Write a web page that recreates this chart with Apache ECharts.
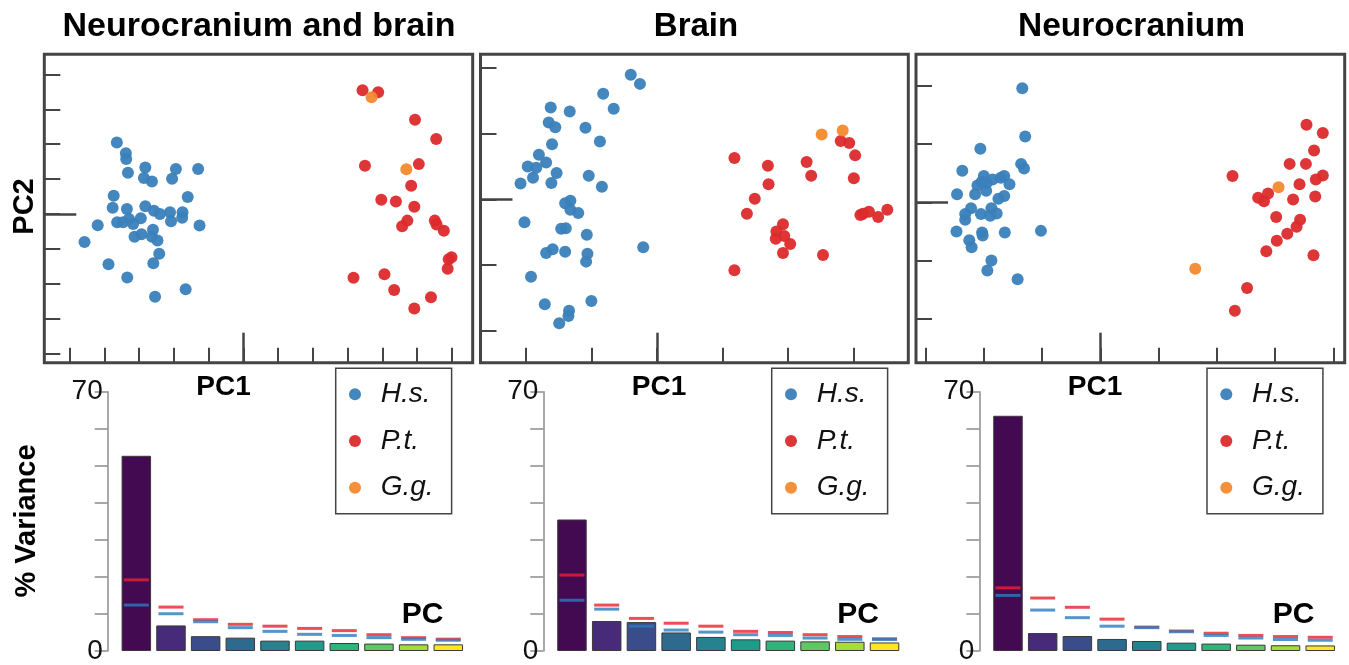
<!DOCTYPE html>
<html>
<head>
<meta charset="utf-8">
<script src="https://cdn.jsdelivr.net/npm/echarts@6/dist/echarts.min.js"></script>
<style>
html,body{margin:0;padding:0;background:#fff;}
#chart{width:1349px;height:665px;}
</style>
</head>
<body>
<div id="chart"></div>
<script>
// ---------- DATA ----------
const panelTitles = ['Neurocranium and brain', 'Brain', 'Neurocranium'];
const speciesNames = ['H.s.', 'P.t.', 'G.g.'];
const pcCategories = ['PC1','PC2','PC3','PC4','PC5','PC6','PC7','PC8','PC9','PC10'];

// Scatter: PC1 / PC2 scores (in axis-tick units)
const nbHs = [[-3.64,2.05],[-3.38,1.74],[-3.37,1.58],[-3.32,1.18],[-2.82,1.33],[-2.86,1.03],[-2.63,0.93],[-1.94,1.29],[-2.05,1.01],[-1.30,1.29],
  [-3.73,0.52],[-1.60,0.49],[-3.76,0.18],[-3.35,0.14],[-2.82,0.22],[-2.57,0.09],[-2.40,0.00],[-2.11,0.05],[-1.75,0.05],[-1.76,-0.11],
  [-2.08,-0.21],[-1.26,-0.33],[-4.19,-0.32],[-3.63,-0.24],[-3.46,-0.24],[-3.29,-0.14],[-3.17,-0.29],[-2.95,-0.12],[-4.57,-0.80],[-2.60,-0.45],
  [-3.13,-0.65],[-2.93,-0.58],[-2.63,-0.65],[-2.47,-0.76],[-2.42,-1.14],[-3.88,-1.44],[-2.59,-1.41],[-3.34,-1.82],[-2.54,-2.37],[-1.66,-2.16]];
const nbPt = [[3.43,3.55],[3.88,3.49],[4.94,2.70],[5.55,2.15],[3.50,1.38],[5.05,1.43],[4.83,0.81],[3.97,0.41],[4.39,0.36],[4.92,0.21],
  [4.72,-0.19],[4.57,-0.35],[5.51,-0.19],[5.56,-0.30],[5.77,-0.48],[5.99,-1.24],[5.91,-1.30],[5.88,-1.57],[3.17,-1.83],[4.06,-1.73],
  [4.34,-2.18],[5.40,-2.39],[4.92,-2.71]];
const nbGg = [[3.69,3.35],[4.69,1.28]];

const bHs = [[-0.40,1.90],[-0.26,1.76],[-0.82,1.61],[-0.66,1.38],[-1.62,1.40],[-1.33,1.34],[-1.65,1.17],[-1.55,1.10],[-1.09,1.09],[-0.87,0.88],
  [-1.60,0.84],[-1.80,0.68],[-1.69,0.56],[-1.97,0.50],[-1.84,0.48],[-1.53,0.40],[-1.89,0.33],[-2.08,0.24],[-1.61,0.25],[-1.04,0.36],
  [-0.84,0.19],[-1.32,-0.02],[-1.40,-0.06],[-1.32,-0.16],[-1.20,-0.21],[-2.02,-0.35],[-1.46,-0.45],[-1.39,-0.44],[-1.07,-0.54],[-1.59,-0.76],
  [-1.69,-0.82],[-1.40,-0.80],[-1.06,-0.83],[-1.08,-0.95],[-0.21,-0.73],[-1.92,-1.18],[-1.71,-1.60],[-1.34,-1.70],[-1.35,-1.78],[-1.49,-1.89],[-1.00,-1.55]];
const bPt = [[1.18,0.63],[1.69,0.51],[1.70,0.23],[2.28,0.57],[2.35,0.36],[2.80,0.89],[2.93,0.86],[3.02,0.67],[3.00,0.32],[1.49,0.01],
  [1.37,-0.22],[1.92,-0.38],[1.82,-0.49],[1.94,-0.56],[1.81,-0.60],[2.03,-0.68],[1.92,-0.82],[2.53,-0.85],[1.18,-1.08],[3.10,-0.24],
  [3.14,-0.22],[3.23,-0.19],[3.37,-0.27],[3.51,-0.16]];
const bGg = [[2.51,0.99],[2.83,1.05]];

const nHs = [[-1.34,1.96],[-1.29,1.13],[-2.06,0.92],[-2.37,0.54],[-1.36,0.66],[-1.31,0.58],[-2.00,0.45],[-1.85,0.39],[-1.71,0.42],[-1.65,0.45],
  [-1.56,0.31],[-2.11,0.29],[-1.96,0.20],[-2.15,0.14],[-2.46,0.14],[-1.75,0.06],[-1.65,0.11],[-2.22,-0.10],[-1.87,-0.10],[-2.32,-0.20],
  [-2.05,-0.20],[-1.89,-0.23],[-1.78,-0.19],[-2.32,-0.30],[-2.47,-0.50],[-2.03,-0.52],[-2.02,-0.57],[-1.64,-0.52],[-1.02,-0.49],[-2.25,-0.65],
  [-2.21,-0.77],[-1.87,-1.00],[-1.94,-1.17],[-1.42,-1.32],[-1.95,0.33],[-2.04,0.35]];
const nPt = [[3.54,1.33],[3.82,1.19],[3.67,0.89],[3.25,0.66],[3.53,0.66],[2.27,0.45],[3.82,0.46],[3.70,0.39],[3.42,0.31],[2.71,0.08],
  [2.81,0.02],[2.88,0.15],[3.31,0.05],[3.69,0.10],[3.02,-0.25],[3.43,-0.30],[3.37,-0.42],[3.21,-0.54],[3.03,-0.66],[2.85,-0.84],
  [3.66,-0.91],[2.52,-1.47],[2.31,-1.86]];
const nGg = [[3.06,0.26],[1.63,-1.14]];

// Scatter axis ranges and tick positions
const scXMin = [-5.727, -2.69, -3.165];
const scXMax = [6.60, 3.83, 4.196];
const scYMin = [-4.264, -2.491, -2.753];
const scYMax = [4.579, 2.211, 2.541];
const scXTicks = [[-5,-4,-3,-2,-1,0,1,2,3,4,5,6],[-2,-1,0,1,2,3],[-3,-2,-1,0,1,2,3,4]];
const scYTicks = [[-4,-3,-2,-1,0,1,2,3,4],[-2,-1,0,1,2],[-2,-1,0,1,2]];

// % variance per PC
const varNB = [52.7, 6.9, 4.0, 3.6, 2.8, 2.8, 2.15, 2.0, 1.8, 1.8];
const varB  = [35.5, 8.1, 7.8, 5.0, 3.8, 3.15, 2.8, 2.6, 2.5, 2.3];
const varN  = [63.5, 4.85, 4.05, 3.25, 2.7, 2.25, 2.0, 1.7, 1.55, 1.5];
// reference marks (red = P.t., blue = H.s.)
const redNB  = [19.2, 11.85, 8.45, 7.2, 6.7, 6.1, 5.5, 4.4, 3.6, 3.2];
const blueNB = [12.4, 10.06, 7.9, 6.3, 5.3, 4.5, 4.2, 3.6, 3.15, 2.9];
const redB   = [20.5, 12.4, 8.8, 7.5, 6.7, 5.3, 5.0, 4.4, 3.9, 3.3];
const blueB  = [13.7, 11.3, 6.7, 5.65, 5.1, 4.4, 4.2, 3.5, 3.15, 3.1];
const redN   = [17.05, 14.3, 11.8, 8.6, 6.46, 5.4, 4.8, 4.2, 3.9, 3.7];
const blueN  = [15.0, 11.05, 9.0, 6.7, 6.3, 5.2, 4.2, 3.5, 3.1, 2.9];
const varTickLabels = [0, 70];

// ---------- STYLE ----------
const COL = {'H.s.':'#3a80ba','P.t.':'#dc2a2c','G.g.':'#f5892f'};
const viridis = ['#430a52','#472a7a','#3b4c8b','#2e6a8e','#25828e','#1e9c89','#2fb47c','#5ec962','#a8db34','#fde725'];
const FONT = '"Liberation Sans", Arial, sans-serif';
const frameColor = '#444';

const scGrids = [
  {left:44.3, top:54.3, width:428.4, height:308.4},
  {left:480.5, top:54.3, width:427.8, height:308.4},
  {left:916, top:54.3, width:428.7, height:308.4}
];
const barGrids = [
  {left:119.0, top:391.7, width:346.6, height:260},
  {left:554.6, top:391.7, width:347.3, height:260},
  {left:990.65, top:391.7, width:346.9, height:260}
];
const legendPos = [{left:335.7, top:368.3},{left:771.7, top:368.3},{left:1207, top:368.3}];
const scatterSets = [[nbHs,nbPt,nbGg],[bHs,bPt,bGg],[nHs,nPt,nGg]];
const varSets = [[varNB,redNB,blueNB],[varB,redB,blueB],[varN,redN,blueN]];

const grid = [], xAxis = [], yAxis = [], series = [], legend = [];

function scAxis(gi, min, max, pos, len, ticks, w) {
  return {type:'value', gridIndex:gi, min:min, max:max, position:pos,
    axisLine:{show:false, onZero:false}, splitLine:{show:false}, axisLabel:{show:false},
    axisTick:{show:true, inside:true, length:len, customValues:ticks, lineStyle:{color:frameColor, width:w}}};
}

for (let p = 0; p < 3; p++) {
  const gi = grid.length;
  grid.push(Object.assign({show:true, borderColor:frameColor, borderWidth:3, backgroundColor:'transparent'}, scGrids[p]));
  const xi = xAxis.length, yi = yAxis.length;
  xAxis.push(scAxis(gi, scXMin[p], scXMax[p], 'bottom', 15, scXTicks[p], 2));
  yAxis.push(scAxis(gi, scYMin[p], scYMax[p], 'left', 16, scYTicks[p], 2));
  // long ticks at zero
  xAxis.push(scAxis(gi, scXMin[p], scXMax[p], 'bottom', 30, [0], 2.5));
  yAxis.push(scAxis(gi, scYMin[p], scYMax[p], 'left', 32, [0], 2.5));
  speciesNames.forEach((nm, k) => {
    series.push({type:'scatter', name:nm, xAxisIndex:xi, yAxisIndex:yi, data:scatterSets[p][k],
      symbol:'circle', symbolSize:12, itemStyle:{color:COL[nm], opacity:0.95}, z:3+k});
  });
}

for (let p = 0; p < 3; p++) {
  const gi = grid.length;
  grid.push(Object.assign({show:false}, barGrids[p]));
  const xi = xAxis.length, yi = yAxis.length;
  xAxis.push({type:'category', gridIndex:gi, data:pcCategories, boundaryGap:true,
    axisLine:{show:false}, axisTick:{show:false}, axisLabel:{show:false}, splitLine:{show:false}});
  yAxis.push({type:'value', gridIndex:gi, min:0, max:70, interval:10, offset:11.3,
    axisLine:{show:true, lineStyle:{color:'#8c8c8c', width:1.5}},
    axisTick:{show:true, inside:false, length:13, lineStyle:{color:'#8c8c8c', width:1.5}},
    axisLabel:{show:true, customValues:varTickLabels, margin:5, fontSize:28, fontFamily:FONT, color:'#111'},
    splitLine:{show:false}});
  const [v, r, b] = varSets[p];
  series.push({type:'bar', xAxisIndex:xi, yAxisIndex:yi, data:v, barWidth:29.5,
    itemStyle:{color:(params)=>viridis[params.dataIndex], borderColor:'#3a3a3a', borderWidth:1}, z:2});
  series.push({type:'scatter', xAxisIndex:xi, yAxisIndex:yi, data:r, symbol:'rect', symbolSize:[25,3],
    itemStyle:{color:'#e8202a'}, z:5, silent:true});
  series.push({type:'scatter', xAxisIndex:xi, yAxisIndex:yi, data:b, symbol:'rect', symbolSize:[25,3],
    itemStyle:{color:'#2b7bbd'}, z:5, silent:true});
  legend.push({data:speciesNames, orient:'vertical', left:legendPos[p].left, top:legendPos[p].top,
    icon:'circle', itemWidth:12, itemHeight:12, itemGap:16.7, padding:[11,18,11,13.3],
    borderColor:'#444', borderWidth:1.5, selectedMode:false,
    textStyle:{fontSize:28, fontStyle:'italic', fontFamily:FONT, color:'#111', lineHeight:30, padding:[0,0,0,14.7]}});
}

function txt(s, x, y, size, opts) {
  return Object.assign({type:'text', x:x, y:y, style:{text:s, fontSize:size, fontWeight:'bold', fontFamily:FONT,
    fill:'#000', textAlign:'center', textVerticalAlign:'middle'}}, opts || {});
}
const graphic = [
  txt(panelTitles[0], 259, 27, 34),
  txt(panelTitles[1], 696, 27, 33),
  txt(panelTitles[2], 1131.5, 27, 33.5),
  txt('PC2', 25, 206.5, 29, {rotation:Math.PI/2}),
  txt('% Variance', 26.5, 521, 29, {rotation:Math.PI/2}),
  txt('PC1', 223.5, 387, 28),
  txt('PC1', 659, 387, 28),
  txt('PC1', 1095, 387, 28),
  txt('PC', 422.5, 615, 30),
  txt('PC', 858, 615, 30),
  txt('PC', 1293.7, 615, 30)
];

const chart = echarts.init(document.getElementById('chart'), null, {renderer:'canvas'});
chart.setOption({
  backgroundColor:'#fff', animation:false,
  grid, xAxis, yAxis, series, legend, graphic
});
</script>
</body>
</html>
